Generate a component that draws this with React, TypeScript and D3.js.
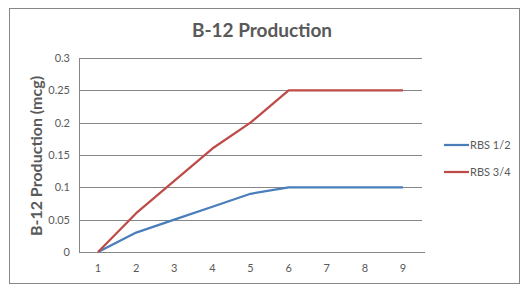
import React from "react";
import * as d3 from "d3";

const categories = ["1", "2", "3", "4", "5", "6", "7", "8", "9"];
const rbsHalf = [0, 0.03, 0.05, 0.07, 0.09, 0.1, 0.1, 0.1, 0.1];
const rbsThreeQuarter = [0, 0.06, 0.11, 0.16, 0.2, 0.25, 0.25, 0.25, 0.25];
const yTicks = [0, 0.05, 0.1, 0.15, 0.2, 0.25, 0.3];
const seriesNames = ["RBS 1/2", "RBS 3/4"];
const seriesColors = ["#4A7EBB", "#BE4B48"];

export default function App() {
  const W = 529, H = 290;
  const left = 79, right = 422, top = 58, bottom = 252;
  const x = d3.scaleBand<string>().domain(categories).range([left, right]);
  const y = d3.scaleLinear().domain([0, 0.3]).range([bottom, top]);
  const line = d3
    .line<number>()
    .x((_, i) => (x(categories[i]) as number) + x.bandwidth() / 2)
    .y((v) => y(v));
  const series = [rbsHalf, rbsThreeQuarter];
  const font = "Lato, 'Open Sans', sans-serif";
  return (
    <svg
      width={W}
      height={H}
      style={{ position: "absolute", left: 0, top: 0, fontFamily: font }}
    >
      <rect x={0} y={0} width={W} height={H} fill="#fff" />
      <rect x={9.5} y={8.5} width={510} height={275} fill="#fff" stroke="#868686" strokeWidth={1} />
      <text x={262} y={37} textAnchor="middle" fontSize={19} fontWeight="bold" fill="#595959">
        B-12 Production
      </text>
      {yTicks.map((t) => (
        <g key={t}>
          {t > 0 && (
            <line x1={left} x2={right} y1={Math.round(y(t)) + 0.5} y2={Math.round(y(t)) + 0.5} stroke="#868686" />
          )}
          <text x={70} y={y(t)} dy="0.35em" textAnchor="end" fontSize={11} fill="#595959">
            {t}
          </text>
        </g>
      ))}
      <line x1={left + 0.5} x2={left + 0.5} y1={top} y2={bottom} stroke="#868686" />
      <line x1={left} x2={right + 3} y1={bottom + 0.5} y2={bottom + 0.5} stroke="#868686" />
      {categories.map((c) => (
        <text key={c} x={(x(c) as number) + x.bandwidth() / 2} y={268} dy="0.35em" textAnchor="middle" fontSize={11} fill="#595959">
          {c}
        </text>
      ))}
      <text
        transform={`translate(42,156) rotate(-90)`}
        textAnchor="middle"
        fontSize={16}
        fontWeight="bold"
        fill="#595959"
      >
        B-12 Production (mcg)
      </text>
      {series.map((s, i) => (
        <path key={i} d={line(s) || ""} fill="none" stroke={seriesColors[i]} strokeWidth={2.25} strokeLinejoin="round" />
      ))}
      {seriesNames.map((n, i) => (
        <g key={n} transform={`translate(0,${145 + i * 27})`}>
          <line x1={444} x2={469} y1={0} y2={0} stroke={seriesColors[i]} strokeWidth={2.25} />
          <text x={470} y={0} dy="0.35em" fontSize={11} fill="#595959">
            {n}
          </text>
        </g>
      ))}
    </svg>
  );
}
